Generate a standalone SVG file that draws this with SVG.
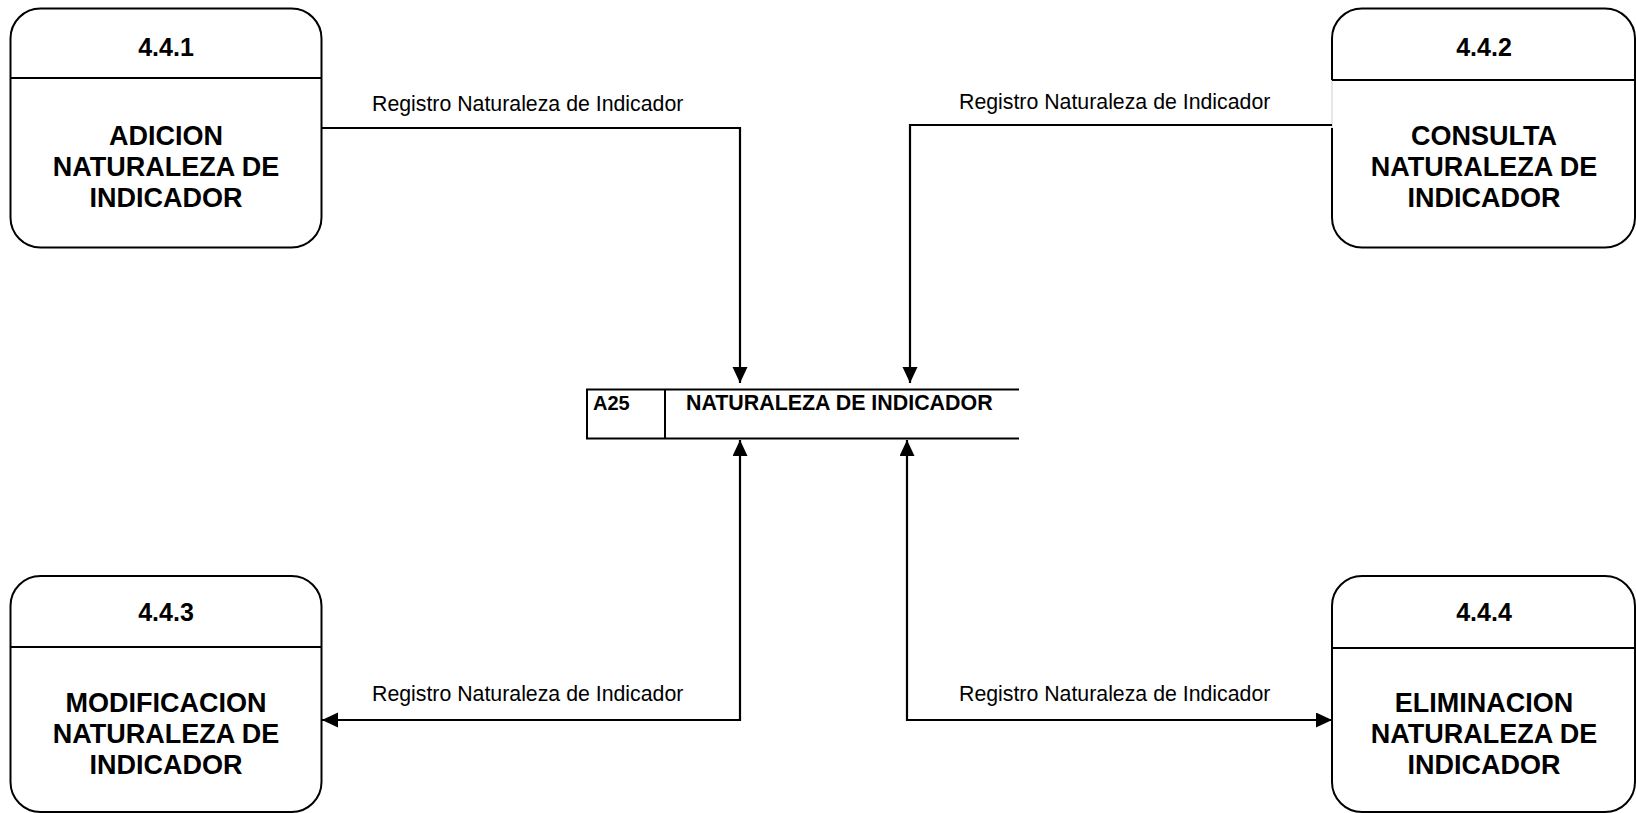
<svg xmlns="http://www.w3.org/2000/svg" width="1636" height="813" viewBox="0 0 1636 813">
<style>
.box{fill:#fff;stroke:#000;stroke-width:2}
.div{stroke:#000;stroke-width:2}
.num{font-family:"Liberation Sans",Arial,sans-serif;font-weight:bold;font-size:25px;text-anchor:middle;fill:#000}
.ttl{font-family:"Liberation Sans",Arial,sans-serif;font-weight:bold;font-size:27px;text-anchor:middle;fill:#000}
.lbl{font-family:"Liberation Sans",Arial,sans-serif;font-size:21.3px;fill:#000}
.st{font-family:"Liberation Sans",Arial,sans-serif;font-weight:bold;font-size:20px;fill:#000}
.st2{font-family:"Liberation Sans",Arial,sans-serif;font-weight:bold;font-size:21.4px;fill:#000}
.con{fill:none;stroke:#000;stroke-width:2.2}
</style>
<defs>
<marker id="ah" markerUnits="userSpaceOnUse" markerWidth="17" markerHeight="16" refX="16" refY="7.5" orient="auto-start-reverse" viewBox="0 0 17 16">
<path d="M0,0 L16,7.5 L0,15 z" fill="#000"/>
</marker>
</defs>
<rect width="1636" height="813" fill="#fff"/>
<g id="p441">
<rect class="box" x="10.5" y="8.5" width="311" height="239" rx="30" ry="30"/>
<line class="div" x1="10.5" y1="78" x2="321.5" y2="78"/>
<text class="num" x="166" y="56">4.4.1</text>
<text class="ttl" x="166" y="145">ADICION</text>
<text class="ttl" x="166" y="176">NATURALEZA DE</text>
<text class="ttl" x="166" y="207">INDICADOR</text>
</g>
<g id="p442">
<path class="box" d="M1332,128 V217.5 A30,30 0 0 0 1362,247.5 H1605 A30,30 0 0 0 1635,217.5 V38.5 A30,30 0 0 0 1605,8.5 H1362 A30,30 0 0 0 1332,38.5 V80"/>
<line x1="1332" y1="80" x2="1332" y2="128" stroke="#e6e6e6" stroke-width="2"/>
<line class="div" x1="1332" y1="80" x2="1635" y2="80"/>
<text class="num" x="1484" y="56">4.4.2</text>
<text class="ttl" x="1484" y="145">CONSULTA</text>
<text class="ttl" x="1484" y="176">NATURALEZA DE</text>
<text class="ttl" x="1484" y="207">INDICADOR</text>
</g>
<g id="p443">
<rect class="box" x="10.5" y="576" width="311" height="236" rx="30" ry="30"/>
<line class="div" x1="10.5" y1="647" x2="321.5" y2="647"/>
<text class="num" x="166" y="621">4.4.3</text>
<text class="ttl" x="166" y="712">MODIFICACION</text>
<text class="ttl" x="166" y="743">NATURALEZA DE</text>
<text class="ttl" x="166" y="774">INDICADOR</text>
</g>
<g id="p444">
<rect class="box" x="1332" y="576" width="303" height="236" rx="30" ry="30"/>
<line class="div" x1="1332" y1="648" x2="1635" y2="648"/>
<text class="num" x="1484" y="621">4.4.4</text>
<text class="ttl" x="1484" y="712">ELIMINACION</text>
<text class="ttl" x="1484" y="743">NATURALEZA DE</text>
<text class="ttl" x="1484" y="774">INDICADOR</text>
</g>
<g id="a25">
<line class="div" x1="586" y1="389.5" x2="1019" y2="389.5"/>
<line class="div" x1="586" y1="438.5" x2="1019" y2="438.5"/>
<line class="div" x1="587" y1="389" x2="587" y2="439"/>
<line class="div" x1="665" y1="389" x2="665" y2="439"/>
<text class="st" x="593" y="410">A25</text>
<text class="st2" x="686" y="410">NATURALEZA DE INDICADOR</text>
</g>
<g id="connectors">
<path class="con" d="M322,128 H740 V383" marker-end="url(#ah)"/>
<path class="con" d="M1332,125 H910 V383" marker-end="url(#ah)"/>
<path class="con" d="M740,440 V720 H322" marker-start="url(#ah)" marker-end="url(#ah)"/>
<path class="con" d="M907,440 V720 H1332" marker-start="url(#ah)" marker-end="url(#ah)"/>
<text class="lbl" x="372" y="111">Registro Naturaleza de Indicador</text>
<text class="lbl" x="959" y="109">Registro Naturaleza de Indicador</text>
<text class="lbl" x="372" y="701">Registro Naturaleza de Indicador</text>
<text class="lbl" x="959" y="701">Registro Naturaleza de Indicador</text>
</g>
</svg>
